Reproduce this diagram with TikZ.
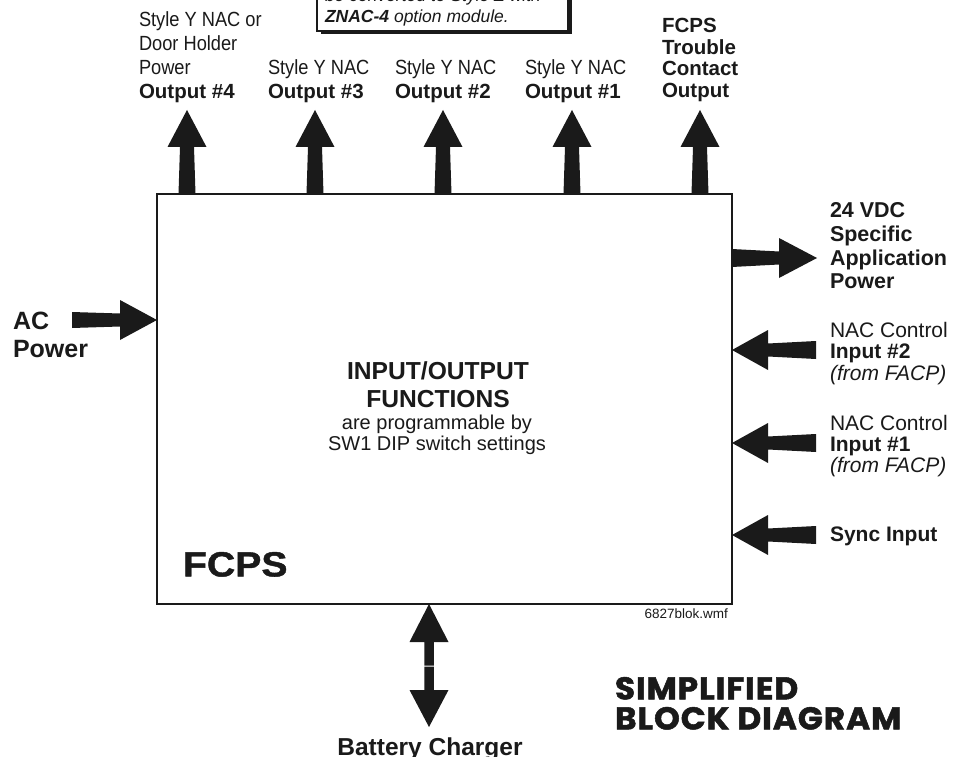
\documentclass[tikz,border=0pt]{standalone}
\usepackage{fontspec}
\setmainfont{Liberation Sans}
\newfontfamily\narrowfont[FakeStretch=0.89]{Liberation Sans}
\newfontfamily\widefont[FakeStretch=1.12,FakeBold=1.2]{Liberation Sans}
\newfontfamily\geofont[FakeBold=1.6,LetterSpace=3,FakeStretch=1.04]{Poppins}
\usetikzlibrary{calc,shadows}
\definecolor{ink}{HTML}{1A1A1A}
\tikzset{
  lbl/.style={inner sep=0pt, outer sep=0pt, align=left, anchor=north west, text=ink},
  pics/outup/.style={code={\fill[ink] (-8.5,0) -- (-7,-47) -- (-19.5,-47) -- (0,-84) -- (19.5,-47) -- (7,-47) -- (8.5,0) -- cycle;}},
  pics/outright/.style={code={\fill[ink] (0,-9) -- (47,-6.5) -- (47,-20) -- (85,0) -- (47,20) -- (47,6.5) -- (0,9) -- cycle;}},
  pics/inleft/.style={code={\fill[ink] (0,0) -- (36,-20) -- (36,-6.5) -- (84,-9) -- (84,9) -- (36,6.5) -- (36,20) -- cycle;}},
  pics/inright/.style={code={\fill[ink] (0,0) -- (-37,-20) -- (-37,-6.5) -- (-85,-8) -- (-85,8) -- (-37,6.5) -- (-37,20) -- cycle;}},
  pics/bidir/.style={code={
    \fill[ink] (-4.75,61.5) -- (-4.75,38) -- (-19.5,38) -- (0,0) -- (19.5,38) -- (4.75,38) -- (4.75,61.5) -- cycle;
    \fill[ink] (-4.75,62.5) -- (-4.75,86) -- (-19.5,86) -- (0,123) -- (19.5,86) -- (4.75,86) -- (4.75,62.5) -- cycle;}}
}
\begin{document}
\begin{tikzpicture}[x=1pt,y=-1pt]
\useasboundingbox (0,0) rectangle (962,757);
\clip (0,0) rectangle (962,757);
\fill[white] (0,0) rectangle (962,757);

% note box (cropped at top)
\node[draw=ink, fill=white, line width=2pt, minimum width=251pt, minimum height=80pt,
      anchor=south west, inner sep=0pt, outer sep=0pt,
      drop shadow={shadow xshift=3.5pt, shadow yshift=-3.5pt, fill=ink, opacity=1}] (note) at (317,31) {};
\node[lbl, font=\fontsize{17.5}{21}\selectfont\itshape] (notetext) at (325,-11.5)
  {be converted to Style Z with\\\textbf{ZNAC-4} option module.};

% main box
\node[draw=ink, line width=1.3pt, minimum width=575pt, minimum height=410pt,
      anchor=north west, inner sep=0pt, outer sep=0pt] (box) at (157,194) {};

% top output arrows
\pic at ($(box.north west)+(30,0)$) {outup};
\pic at ($(box.north west)+(158,0)$) {outup};
\pic at ($(box.north west)+(286,0)$) {outup};
\pic at ($(box.north west)+(415,0)$) {outup};
\pic at ($(box.north west)+(543,0)$) {outup};

% right arrows
\pic at ($(box.north east)+(0,64)$) {outright};
\pic at ($(box.north east)+(0,156)$) {inleft};
\pic at ($(box.north east)+(0,249)$) {inleft};
\pic at ($(box.north east)+(0,341)$) {inleft};

% left arrow
\pic at ($(box.north west)+(0,126)$) {inright};

% bottom arrow
\pic at ($(box.south)+(-15.5,0)$) {bidir};

% top labels
\node[lbl, font=\fontsize{20.5}{24.3}\selectfont] (o4) at (139,11.2)
  {{\narrowfont Style Y NAC or}\\{\narrowfont Door Holder}\\{\narrowfont Power}\\\textbf{Output \#4}};
\node[lbl, font=\fontsize{20.5}{24.3}\selectfont] (o3) at (268,59.2)
  {{\narrowfont Style Y NAC}\\\textbf{Output \#3}};
\node[lbl, font=\fontsize{20.5}{24.3}\selectfont] (o2) at (395,59.2)
  {{\narrowfont Style Y NAC}\\\textbf{Output \#2}};
\node[lbl, font=\fontsize{20.5}{24.3}\selectfont] (o1) at (525,59.2)
  {{\narrowfont Style Y NAC}\\\textbf{Output \#1}};
\node[lbl, font=\fontsize{20.5}{21.7}\selectfont\bfseries] (trouble) at (662,18)
  {FCPS\\Trouble\\Contact\\Output};

% right labels
\node[lbl, font=\fontsize{21.5}{23.7}\selectfont\bfseries] (vdc) at (830,202.6)
  {24 VDC\\Specific\\Application\\Power};
\node[lbl, font=\fontsize{21}{21.5}\selectfont] (in2) at (830,322)
  {NAC Control\\\textbf{Input \#2}\\\textit{(from FACP)}};
\node[lbl, font=\fontsize{21}{21}\selectfont] (in1) at (830,415)
  {NAC Control\\\textbf{Input \#1}\\\textit{(from FACP)}};
\node[lbl, font=\fontsize{21}{21}\selectfont\bfseries] (sync) at (830,527) {Sync Input};

% left label
\node[lbl, font=\fontsize{25}{28}\selectfont\bfseries] (ac) at (13,312) {AC\\Power};

% centre text
\node[inner sep=0pt, anchor=north, align=center, text=ink,
      font=\fontsize{24.6}{28}\selectfont\bfseries] (title) at (438,361.4)
  {INPUT/OUTPUT\\FUNCTIONS};
\node[inner sep=0pt, anchor=north, align=center, text=ink,
      font=\fontsize{20}{21}\selectfont] (sub) at (437,414.4)
  {are programmable by\\SW1 DIP switch settings};

\node[lbl, font=\fontsize{35}{40}\selectfont\widefont\bfseries] (fcps) at (183,552) {FCPS};
\node[inner sep=0pt, anchor=north east, text=ink, font=\fontsize{13.5}{15}\selectfont] (file) at (728,608.5) {6827blok.wmf};

\node[inner sep=0pt, anchor=north, text=ink, font=\fontsize{24.5}{28}\selectfont\bfseries] (batt) at (430,738) {Battery Charger};

\node[lbl, font=\fontsize{31.5}{30}\selectfont\geofont\bfseries] (simp) at (615,677)
  {SIMPLIFIED\\BLOCK DIAGRAM};
\end{tikzpicture}
\end{document}
